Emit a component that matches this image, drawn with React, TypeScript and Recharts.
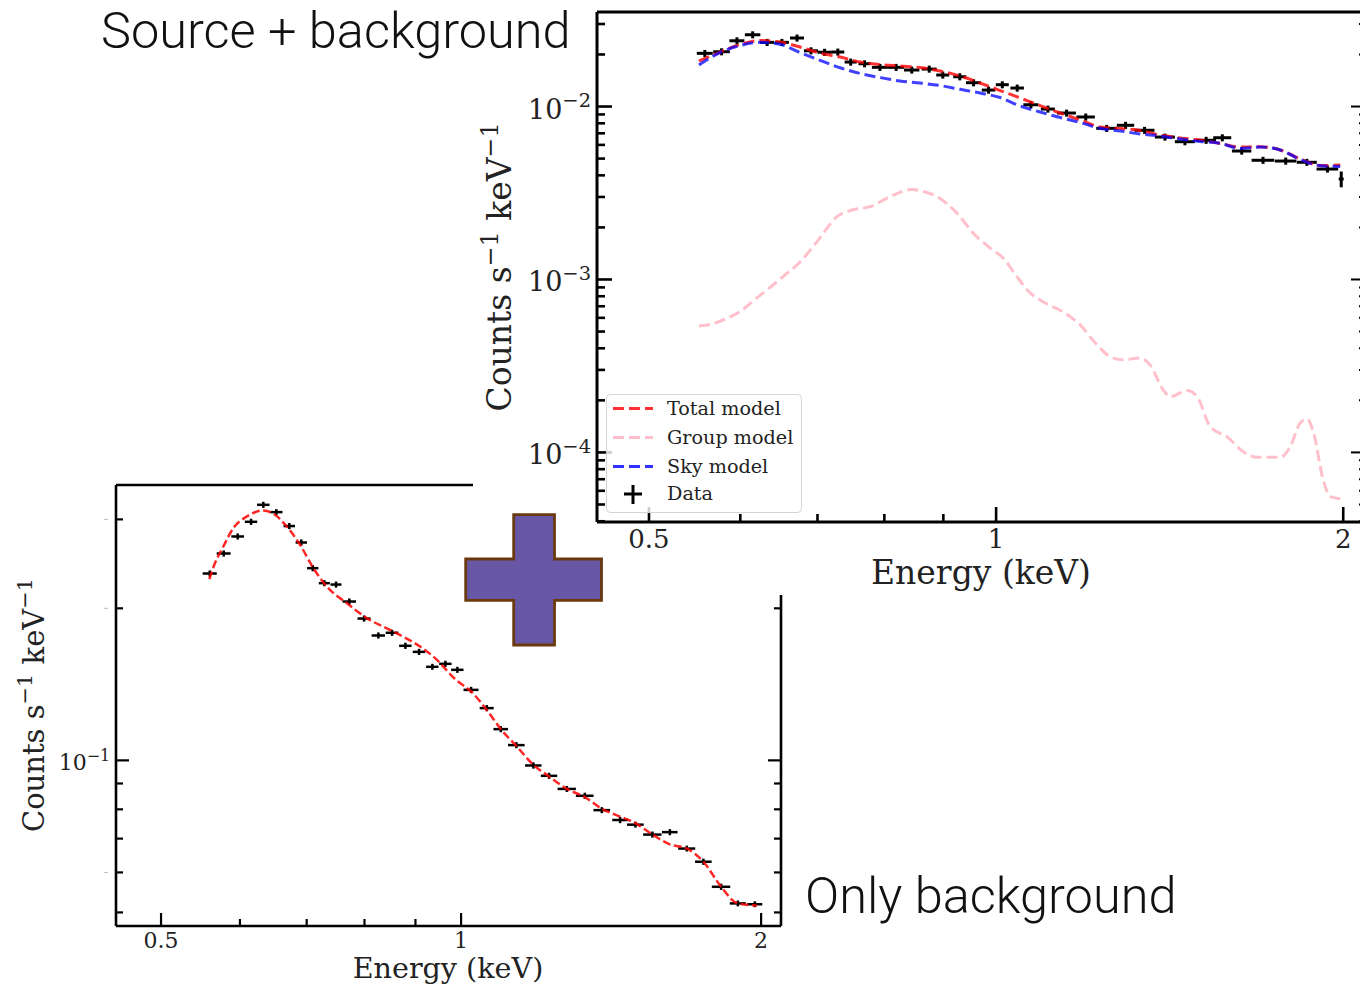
import { ComposedChart, Line, Scatter, ErrorBar, XAxis, YAxis, Legend, Label } from 'recharts';

const SERIF = '"DejaVu Serif", serif';

// ---- Source + background panel ----
const srcEnergy = [0.559, 0.578, 0.596, 0.615, 0.633, 0.652, 0.672, 0.691, 0.71, 0.729, 0.748, 0.769, 0.793, 0.819, 0.845, 0.875, 0.899, 0.93, 0.956, 0.985, 1.0125, 1.043, 1.072, 1.109, 1.151, 1.196, 1.247, 1.295, 1.345, 1.401, 1.458, 1.521, 1.571, 1.633, 1.704, 1.783, 1.86, 1.938, 1.992];
const srcEnergyErr = [0.0089, 0.0096, 0.0089, 0.0095, 0.0089, 0.0091, 0.0094, 0.0097, 0.0099, 0.0095, 0.009, 0.0092, 0.0127, 0.0131, 0.013, 0.0131, 0.0117, 0.0121, 0.0143, 0.0132, 0.0131, 0.014, 0.0161, 0.0155, 0.0218, 0.022, 0.0257, 0.0225, 0.0269, 0.028, 0.0291, 0.0304, 0.0282, 0.0316, 0.0385, 0.0385, 0.0372, 0.0418, 0.0099];
const srcCounts = [0.0203, 0.02074, 0.024, 0.026, 0.0235, 0.0235, 0.0249, 0.021, 0.0206, 0.02066, 0.01808, 0.01768, 0.01685, 0.01685, 0.01626, 0.01647, 0.01521, 0.01487, 0.01373, 0.01245, 0.01337, 0.01279, 0.01024, 0.00967, 0.00917, 0.0087, 0.00748, 0.00779, 0.00729, 0.00666, 0.00626, 0.00638, 0.0066, 0.00553, 0.00489, 0.00484, 0.00476, 0.00435, 0.00381];
const srcCountsErr = [0.00095, 0.00097, 0.00113, 0.00122, 0.0011, 0.0011, 0.00117, 0.00099, 0.00097, 0.00097, 0.00085, 0.00083, 0.00079, 0.00079, 0.00076, 0.00077, 0.00071, 0.0007, 0.00065, 0.00059, 0.00063, 0.0006, 0.00048, 0.00045, 0.00043, 0.00041, 0.00035, 0.00037, 0.00034, 0.00031, 0.00029, 0.0003, 0.00031, 0.00026, 0.00023, 0.00023, 0.00022, 0.0002, 0.0004];

const modelEnergy = [0.5525, 0.5762, 0.5997, 0.6241, 0.6495, 0.676, 0.7036, 0.7323, 0.7621, 0.7932, 0.8255, 0.8592, 0.8942, 0.9307, 0.9686, 1.0081, 1.0491, 1.0919, 1.1364, 1.1827, 1.2309, 1.2811, 1.3333, 1.3877, 1.4442, 1.5031, 1.5643, 1.6281, 1.6945, 1.7635, 1.8354, 1.9102, 1.9881];
const totalModel = [0.01832, 0.02066, 0.02282, 0.02407, 0.0236, 0.02208, 0.02038, 0.01933, 0.01808, 0.01749, 0.01714, 0.01681, 0.01604, 0.01501, 0.01367, 0.01237, 0.0112, 0.01013, 0.00917, 0.00836, 0.00761, 0.00746, 0.00727, 0.00684, 0.00658, 0.0064, 0.00611, 0.00583, 0.00585, 0.00561, 0.00497, 0.00456, 0.00459];
const skyModel = [0.01737, 0.02052, 0.02252, 0.0235, 0.02289, 0.02052, 0.0185, 0.01676, 0.01552, 0.01471, 0.01404, 0.01367, 0.01322, 0.01257, 0.01197, 0.01127, 0.01007, 0.00929, 0.00864, 0.00808, 0.00748, 0.00722, 0.00694, 0.00675, 0.00649, 0.00628, 0.00613, 0.00572, 0.00583, 0.00561, 0.00494, 0.00455, 0.0045];

const groupEnergy = [0.5525, 0.567, 0.5796, 0.5997, 0.6155, 0.6342, 0.6561, 0.676, 0.6994, 0.7279, 0.7501, 0.7775, 0.8092, 0.8456, 0.8678, 0.8889, 0.9251, 0.9551, 0.9881, 1.0141, 1.0429, 1.0703, 1.0919, 1.1594, 1.1827, 1.2236, 1.2558, 1.2888, 1.3333, 1.3602, 1.396, 1.4157, 1.4646, 1.4941, 1.5334, 1.5864, 1.6379, 1.6843, 1.7635, 1.7992, 1.8354, 1.8612, 1.8837, 1.9217, 1.9488, 1.9961];
const groupModel = [0.000539, 0.000553, 0.000583, 0.000652, 0.000751, 0.000881, 0.001062, 0.001262, 0.001654, 0.002307, 0.002522, 0.002635, 0.00301, 0.003313, 0.003205, 0.00301, 0.002414, 0.001857, 0.001521, 0.001331, 0.001034, 0.000836, 0.000761, 0.00061, 0.000546, 0.000418, 0.000358, 0.000343, 0.000352, 0.00032, 0.00023, 0.00021, 0.000228, 0.00021, 0.000141, 0.000123, 0.000101, 0.0000938, 0.0000938, 0.000108, 0.000148, 0.000156, 0.000132, 0.0000693, 0.0000555, 0.0000538];

// ---- Only background panel ----
const bkgEnergy = [0.5596, 0.5779, 0.5969, 0.6156, 0.6333, 0.6526, 0.6725, 0.6914, 0.7099, 0.7292, 0.7491, 0.7725, 0.7992, 0.8261, 0.8526, 0.8793, 0.9075, 0.9358, 0.9644, 0.9915, 1.0234, 1.0611, 1.0961, 1.1363, 1.1818, 1.2255, 1.2767, 1.3309, 1.3842, 1.4439, 1.496, 1.5559, 1.6197, 1.6844, 1.7504, 1.8235, 1.8953, 1.9712];
const bkgEnergyErr = [0.0091, 0.0093, 0.0087, 0.0088, 0.0091, 0.0093, 0.0089, 0.0091, 0.0093, 0.0093, 0.0095, 0.012, 0.012, 0.0128, 0.0124, 0.0126, 0.0132, 0.0134, 0.0138, 0.0142, 0.0177, 0.0172, 0.0185, 0.0218, 0.0224, 0.0232, 0.0271, 0.0271, 0.0265, 0.026, 0.0287, 0.0331, 0.0292, 0.0331, 0.0336, 0.0388, 0.035, 0.0342];
const bkgCounts = [0.2344, 0.2568, 0.2775, 0.2967, 0.3206, 0.3101, 0.291, 0.27, 0.2402, 0.2243, 0.2229, 0.2063, 0.1909, 0.1767, 0.1789, 0.1686, 0.164, 0.1532, 0.1553, 0.1511, 0.1379, 0.1269, 0.1153, 0.1072, 0.0977, 0.0932, 0.0878, 0.0851, 0.0797, 0.0762, 0.0746, 0.0713, 0.0721, 0.0669, 0.063, 0.0562, 0.0521, 0.0519];
const bkgCountsErr = [0.0033, 0.0036, 0.0039, 0.0042, 0.0045, 0.0043, 0.0041, 0.0038, 0.0034, 0.0031, 0.0031, 0.0029, 0.0027, 0.0025, 0.0025, 0.0024, 0.0023, 0.0021, 0.0022, 0.0021, 0.0019, 0.0018, 0.0016, 0.0015, 0.0014, 0.0013, 0.0012, 0.0012, 0.0011, 0.0011, 0.001, 0.001, 0.001, 0.0009, 0.0009, 0.0008, 0.0007, 0.0007];

const bkgModelEnergy = [0.559, 0.5664, 0.5774, 0.5909, 0.6095, 0.6333, 0.6507, 0.6685, 0.6894, 0.7109, 0.7332, 0.7679, 0.8042, 0.8552, 0.9096, 0.938, 0.9901, 1.0234, 1.0611, 1.0961, 1.1363, 1.1818, 1.2255, 1.2767, 1.3309, 1.3842, 1.4439, 1.496, 1.5559, 1.6197, 1.6844, 1.7504, 1.8235, 1.8953, 1.9803];
const bkgModel = [0.2285, 0.2458, 0.2651, 0.2883, 0.304, 0.3124, 0.3063, 0.2904, 0.2672, 0.2402, 0.2209, 0.2048, 0.1913, 0.1799, 0.168, 0.1605, 0.1439, 0.1369, 0.1259, 0.1153, 0.1068, 0.098, 0.0929, 0.0878, 0.0846, 0.0802, 0.0774, 0.0751, 0.0713, 0.0682, 0.0669, 0.063, 0.0562, 0.0521, 0.0516];

// axis ticks
const energyTicks = [0.5, 0.6, 0.7, 0.8, 0.9, 1, 2];
const energyLabels = [0.5, 1, 2];
const srcCountTicks = [0.03, 0.02, 0.01, 0.009, 0.008, 0.007, 0.006, 0.005, 0.004, 0.003, 0.002, 0.001, 0.0009, 0.0008, 0.0007, 0.0006, 0.0005, 0.0004, 0.0003, 0.0002, 0.0001, 0.00009, 0.00008, 0.00007, 0.00006, 0.00005, 0.00004];
const bkgCountTicks = [0.3, 0.2, 0.1, 0.09, 0.08, 0.07, 0.06, 0.05];
const decadeLabels: Record<string, string> = { '0.01': '−2', '0.001': '−3', '0.0001': '−4', '0.1': '−1' };

const legendRows = [
  { name: 'Total model', color: '#ff3030' },
  { name: 'Group model', color: '#ffc0cb' },
  { name: 'Sky model', color: '#3030ff' },
];

const zip = (e: number[], c: number[]) => e.map((energy, i) => ({ energy, counts: c[i] }));
const zipErr = (e: number[], ee: number[], c: number[], ce: number[]) =>
  e.map((energy, i) => ({ energy, counts: c[i], energyErr: ee[i], countsErr: ce[i] }));

// ticks point inwards, matplotlib style
const XTick = ({ x, y, payload, dir, major, minor, width, fontSize, labelDy, labels }: any) => {
  const isMajor = payload.value === 0.5 || payload.value === 1 || payload.value === 2;
  const len = isMajor ? major : minor;
  return (
    <g>
      <line x1={x} x2={x} y1={y} y2={y + dir * len} stroke="#000" strokeWidth={width} />
      {labels && energyLabels.includes(payload.value) && (
        <text x={x} y={y + labelDy} textAnchor="middle" fontFamily={SERIF} fontSize={fontSize} fill="#222">
          {payload.value}
        </text>
      )}
    </g>
  );
};

const YTick = ({ x, y, payload, dir, major, minor, width, fontSize, labels, labelDy, ghost }: any) => {
  const exp = decadeLabels[String(payload.value)];
  const len = exp ? major : minor;
  return (
    <g>
      <line x1={x} x2={x + dir * len} y1={y} y2={y} stroke="#000" strokeWidth={width} />
      {labels && exp && (
        <text x={x - 6} y={y + labelDy} textAnchor="end" fontFamily={SERIF} fontSize={fontSize} fill="#222">
          10
          <tspan fontSize={fontSize * 0.72} dy={-fontSize * 0.42}>{exp}</tspan>
        </text>
      )}
      {labels && !exp && ghost && ghost.includes(payload.value) && (
        <line x1={x - 12} x2={x - 8} y1={y} y2={y} stroke="#bbb" strokeWidth={1} />
      )}
    </g>
  );
};

const YTitle = ({ x, y, fontSize }: any) => (
  <text
    x={x}
    y={y}
    transform={`rotate(-90 ${x} ${y})`}
    textAnchor="middle"
    fontFamily={SERIF}
    fontSize={fontSize}
    fill="#222"
  >
    Counts s<tspan fontSize={fontSize * 0.72} dy={-fontSize * 0.4}>−1</tspan>
    <tspan dy={fontSize * 0.4}> keV</tspan>
    <tspan fontSize={fontSize * 0.72} dy={-fontSize * 0.4}>−1</tspan>
  </text>
);

const LegendBox = () => (
  <svg width={196} height={119} style={{ display: 'block' }}>
    <rect x={0.5} y={0.5} width={195} height={118} rx={4} fill="rgba(255,255,255,0.8)" stroke="#d4d4d4" />
    {legendRows.map((row, i) => (
      <g key={row.name}>
        <line x1={7} x2={47} y1={14.5 + i * 29} y2={14.5 + i * 29} stroke={row.color} strokeWidth={3} strokeDasharray="11 5" />
        <text x={61} y={20.5 + i * 29} fontFamily={SERIF} fontSize={19.2} fill="#222">{row.name}</text>
      </g>
    ))}
    <line x1={27} x2={27} y1={91} y2={110} stroke="#000" strokeWidth={3} />
    <line x1={18} x2={36} y1={100} y2={100} stroke="#000" strokeWidth={3} />
    <text x={61} y={106} fontFamily={SERIF} fontSize={19.2} fill="#222">Data</text>
  </svg>
);

function SourcePanel() {
  const xDomain = [0.4507, 2.093];
  const yDomain = [0.0000396, 0.0352];
  const xt = { major: 15, minor: 8, width: 2.6, fontSize: 26, labelDy: 26 };
  const yt = { major: 15, minor: 8, width: 2.6, fontSize: 27, labelDy: 12 };
  return (
    <ComposedChart
      width={894}
      height={595}
      margin={{ top: 11, right: 0, bottom: 0, left: 0 }}
      style={{ background: '#fff' }}
    >
      <XAxis
        xAxisId="main"
        dataKey="energy"
        type="number"
        scale="log"
        domain={xDomain}
        allowDataOverflow
        ticks={energyTicks}
        interval={0}
        height={73}
        tickSize={0}
        tickMargin={0}
        tickLine={false}
        axisLine={{ stroke: '#000', strokeWidth: 3 }}
        tick={(p: any) => <XTick {...p} {...xt} dir={-1} labels />}
      >
        <Label content={() => (
          <text x={508} y={584} textAnchor="middle" fontFamily={SERIF} fontSize={33} fill="#222">Energy (keV)</text>
        )} />
      </XAxis>
      <XAxis
        xAxisId="top"
        orientation="top"
        type="number"
        scale="log"
        domain={xDomain}
        allowDataOverflow
        ticks={energyTicks}
        interval={0}
        height={1}
        tickSize={0}
        tickMargin={0}
        tickLine={false}
        axisLine={{ stroke: '#000', strokeWidth: 3 }}
        tick={(p: any) => <XTick {...p} {...xt} dir={1} />}
      />
      <YAxis
        yAxisId="main"
        dataKey="counts"
        type="number"
        scale="log"
        domain={yDomain}
        allowDataOverflow
        ticks={srcCountTicks}
        interval={0}
        width={124}
        tickSize={0}
        tickMargin={0}
        tickLine={false}
        axisLine={{ stroke: '#000', strokeWidth: 3 }}
        tick={(p: any) => <YTick {...p} {...yt} dir={1} labels />}
      >
        <Label content={() => <YTitle x={38} y={267} fontSize={33} />} />
      </YAxis>
      <YAxis
        yAxisId="right"
        orientation="right"
        type="number"
        scale="log"
        domain={yDomain}
        allowDataOverflow
        ticks={srcCountTicks}
        interval={0}
        width={1}
        tickSize={0}
        tickMargin={0}
        tickLine={false}
        axisLine={{ stroke: '#000', strokeWidth: 3 }}
        tick={(p: any) => <YTick {...p} {...yt} minor={7} width={2} dir={-1} />}
      />
      <Scatter
        xAxisId="main"
        yAxisId="main"
        data={zipErr(srcEnergy, srcEnergyErr, srcCounts, srcCountsErr)}
        dataKey="counts"
        shape={() => <g />}
        isAnimationActive={false}
      >
        <ErrorBar dataKey="energyErr" direction="x" width={0} stroke="#000" strokeWidth={3} isAnimationActive={false} />
        <ErrorBar dataKey="countsErr" direction="y" width={0} stroke="#000" strokeWidth={3} isAnimationActive={false} />
      </Scatter>
      <Line xAxisId="main" yAxisId="main" data={zip(modelEnergy, totalModel)} dataKey="counts" type="monotone" stroke="#ff0000" strokeOpacity={0.8} strokeWidth={3} strokeDasharray="11 5" dot={false} activeDot={false} isAnimationActive={false} />
      <Line xAxisId="main" yAxisId="main" data={zip(groupEnergy, groupModel)} dataKey="counts" type="monotone" stroke="#ffc0cb" strokeWidth={3} strokeDasharray="11 5" dot={false} activeDot={false} isAnimationActive={false} />
      <Line xAxisId="main" yAxisId="main" data={zip(modelEnergy, skyModel)} dataKey="counts" type="monotone" stroke="#0000ff" strokeOpacity={0.75} strokeWidth={3} strokeDasharray="11 5" dot={false} activeDot={false} isAnimationActive={false} />
      <Legend
        layout="vertical"
        align="center"
        verticalAlign="middle"
        content={LegendBox}
        wrapperStyle={{ left: 133, top: 394, width: 196, height: 119 }}
      />
    </ComposedChart>
  );
}

function BackgroundPanel() {
  const xDomain = [0.4506, 2.094];
  const yDomain = [0.047, 0.3509];
  const xt = { major: 13, minor: 7, width: 2.2, fontSize: 22, labelDy: 22 };
  const yt = { major: 13, minor: 7, width: 2.2, fontSize: 22, labelDy: 10 };
  return (
    <ComposedChart width={790} height={526} margin={{ top: 24, right: 8, bottom: 0, left: 0 }}>
      <XAxis
        xAxisId="main"
        dataKey="energy"
        type="number"
        scale="log"
        domain={xDomain}
        allowDataOverflow
        ticks={energyTicks}
        interval={0}
        height={60}
        tickSize={0}
        tickMargin={0}
        tickLine={false}
        axisLine={{ stroke: '#000', strokeWidth: 2.6 }}
        tick={(p: any) => <XTick {...p} {...xt} dir={-1} labels />}
      >
        <Label content={() => (
          <text x={448} y={518} textAnchor="middle" fontFamily={SERIF} fontSize={28.6} fill="#222">Energy (keV)</text>
        )} />
      </XAxis>
      <XAxis
        xAxisId="top"
        orientation="top"
        type="number"
        scale="log"
        domain={xDomain}
        allowDataOverflow
        ticks={energyTicks}
        interval={0}
        height={1}
        tickSize={0}
        tickMargin={0}
        tickLine={false}
        axisLine={{ stroke: '#000', strokeWidth: 2.6 }}
        tick={(p: any) => <XTick {...p} {...xt} dir={1} />}
      />
      <YAxis
        yAxisId="main"
        dataKey="counts"
        type="number"
        scale="log"
        domain={yDomain}
        allowDataOverflow
        ticks={bkgCountTicks}
        interval={0}
        width={116}
        tickSize={0}
        tickMargin={0}
        tickLine={false}
        axisLine={{ stroke: '#000', strokeWidth: 2.6 }}
        tick={(p: any) => <YTick {...p} {...yt} dir={1} labels ghost={[0.3, 0.2, 0.06]} />}
      >
        <Label content={() => <YTitle x={44} y={245} fontSize={29} />} />
      </YAxis>
      <YAxis
        yAxisId="right"
        orientation="right"
        type="number"
        scale="log"
        domain={yDomain}
        allowDataOverflow
        ticks={bkgCountTicks}
        interval={0}
        width={1}
        tickSize={0}
        tickMargin={0}
        tickLine={false}
        axisLine={{ stroke: '#000', strokeWidth: 2.6 }}
        tick={(p: any) => <YTick {...p} {...yt} dir={-1} />}
      />
      <Scatter
        xAxisId="main"
        yAxisId="main"
        data={zipErr(bkgEnergy, bkgEnergyErr, bkgCounts, bkgCountsErr)}
        dataKey="counts"
        shape={() => <g />}
        isAnimationActive={false}
      >
        <ErrorBar dataKey="energyErr" direction="x" width={0} stroke="#000" strokeWidth={2.5} isAnimationActive={false} />
        <ErrorBar dataKey="countsErr" direction="y" width={0} stroke="#000" strokeWidth={2.5} isAnimationActive={false} />
      </Scatter>
      <Line xAxisId="main" yAxisId="main" data={zip(bkgModelEnergy, bkgModel)} dataKey="counts" type="monotone" stroke="#ff0000" strokeOpacity={0.85} strokeWidth={2.5} strokeDasharray="8 3.5" dot={false} activeDot={false} isAnimationActive={false} />
    </ComposedChart>
  );
}

export default function App() {
  return (
    <div style={{ position: 'absolute', left: 0, top: 0, width: 1360, height: 986, overflow: 'hidden', background: '#fff' }}>
      <div style={{ position: 'absolute', left: 0, top: 460 }}>
        <BackgroundPanel />
      </div>
      <div style={{ position: 'absolute', left: 473, top: 0 }}>
        <SourcePanel />
      </div>
      <svg width={1360} height={986} style={{ position: 'absolute', left: 0, top: 0, pointerEvents: 'none' }}>
        <text x={101} y={48} fontFamily="Roboto, sans-serif" fontWeight={300} fontSize={50.5} fill="#111">Source + background</text>
        <text x={805} y={913} fontFamily="Roboto, sans-serif" fontWeight={300} fontSize={50.5} fill="#111">Only background</text>
        <path
          d="M513.7 514.6 H554.5 V559 H601.5 V600.4 H554.5 V645 H513.7 V600.4 H465.7 V559 H513.7 Z"
          fill="#6857a5"
          stroke="#6a3a0e"
          strokeWidth={2.8}
        />
      </svg>
    </div>
  );
}
